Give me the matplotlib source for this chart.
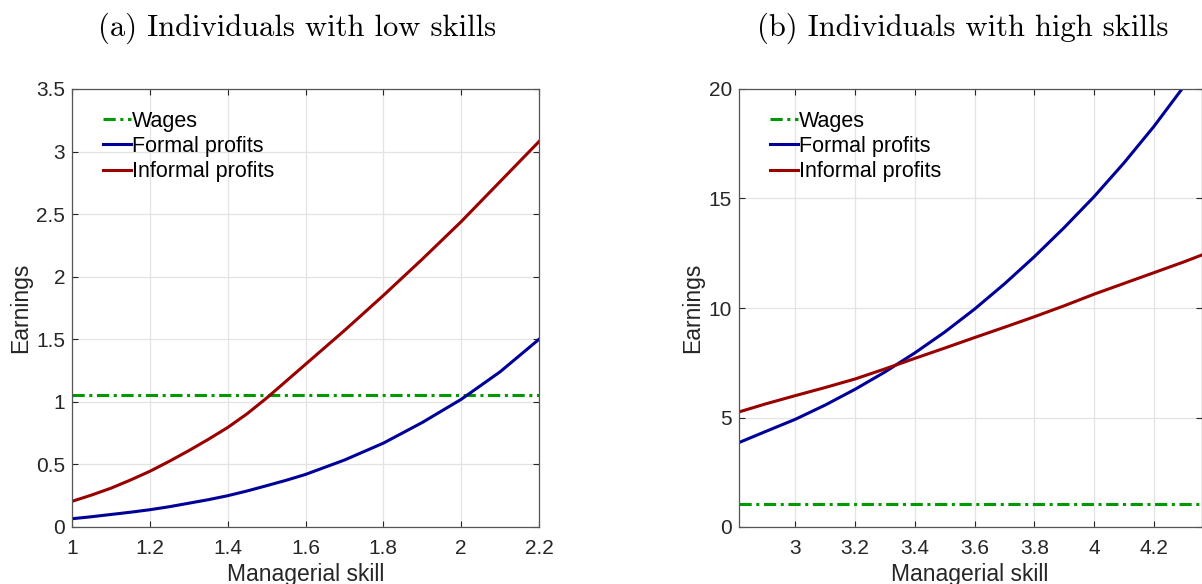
import matplotlib
matplotlib.use('Agg')
import matplotlib.pyplot as plt

# panel (a): low skills
skill_low = [1.0, 1.05, 1.1, 1.15, 1.2, 1.25, 1.3, 1.35, 1.4, 1.45, 1.5, 1.55, 1.6, 1.7, 1.8,
             1.9, 2.0, 2.1, 2.2]
wage_low = [1.056] * len(skill_low)
formal_low = [0.066, 0.082, 0.10, 0.118, 0.138, 0.162, 0.19, 0.218, 0.25, 0.288, 0.33, 0.373,
              0.42, 0.535, 0.67, 0.835, 1.02, 1.24, 1.50]
informal_low = [0.205, 0.255, 0.31, 0.375, 0.445, 0.525, 0.61, 0.70, 0.795, 0.905, 1.03, 1.165,
                1.30, 1.57, 1.85, 2.14, 2.44, 2.76, 3.08]

# panel (b): high skills
skill_high = [2.81, 2.9, 3.0, 3.1, 3.2, 3.3, 3.4, 3.5, 3.6, 3.7, 3.8, 3.9, 4.0, 4.1, 4.2, 4.3, 4.38]
wage_high = [1.07] * len(skill_high)
formal_high = [3.85, 4.36, 4.92, 5.57, 6.29, 7.08, 7.95, 8.9, 9.95, 11.1, 12.34, 13.67, 15.08,
               16.62, 18.28, 20.1, 21.6]
informal_high = [5.25, 5.62, 6.0, 6.37, 6.76, 7.22, 7.7, 8.17, 8.65, 9.12, 9.6, 10.1, 10.63,
                 11.12, 11.61, 12.1, 12.52]

titles = ['(a) Individuals with low skills', '(b) Individuals with high skills']
xticks_low = [1, 1.2, 1.4, 1.6, 1.8, 2, 2.2]
yticks_low = [0, 0.5, 1, 1.5, 2, 2.5, 3, 3.5]
xticks_high = [3, 3.2, 3.4, 3.6, 3.8, 4, 4.2]
yticks_high = [0, 5, 10, 15, 20]

GREEN = '#009900'
BLUE = '#000099'
RED = '#990000'
AX_COL = '#262626'

plt.rcParams['font.family'] = ['Liberation Sans', 'DejaVu Sans']

fig = plt.figure(figsize=(12.02, 5.84), dpi=100)
W, H = 1202, 584
ax1 = fig.add_axes([72 / W, (H - 527) / H, 467 / W, 438 / H])
ax2 = fig.add_axes([738.7 / W, (H - 527) / H, (1201.5 - 738.7) / W, 438 / H])

panels = [
    (ax1, skill_low, wage_low, formal_low, informal_low, (1, 2.2), (0, 3.5), xticks_low, yticks_low),
    (ax2, skill_high, wage_high, formal_high, informal_high, (2.81, 4.36), (0, 20), xticks_high, yticks_high),
]

for i, (ax, x, w, f, inf, xl, yl, xt, yt) in enumerate(panels):
    ax.plot(x, w, color=GREEN, lw=2.2, linestyle=(0, (4, 1.5, 1, 1.5)), label='Wages')
    ax.plot(x, f, color=BLUE, lw=2.2, label='Formal profits')
    ax.plot(x, inf, color=RED, lw=2.2, label='Informal profits')
    ax.set_xlim(*xl)
    ax.set_ylim(*yl)
    ax.set_xticks(xt)
    ax.set_yticks(yt)
    ax.set_xticklabels([('%g' % v) for v in xt])
    ax.set_yticklabels([('%g' % v) for v in yt])
    ax.grid(True, color='#e3e3e3', lw=0.9)
    ax.set_axisbelow(True)
    ax.tick_params(direction='in', length=4, width=0.8, colors=AX_COL, labelsize=15,
                   top=True, right=True, pad=5)
    ax.tick_params(axis='x', pad=9)
    for s in ax.spines.values():
        s.set_color('#555555')
        s.set_linewidth(0.9)
    ax.set_xlabel('Managerial skill', fontsize=16.5, color=AX_COL, labelpad=3)
    ax.set_ylabel('Earnings', fontsize=16.5, color=AX_COL, labelpad=3)
    ax.set_title(titles[i], family='cmr10', fontsize=22, pad=38, x=0.483)
    ax.legend(loc='upper left', frameon=False, fontsize=15.5, handlelength=1.3,
              handletextpad=0.05, labelspacing=0.2, borderaxespad=0.4,
              bbox_to_anchor=(0.03, 0.99))

fig.savefig('out.png', dpi=100)
